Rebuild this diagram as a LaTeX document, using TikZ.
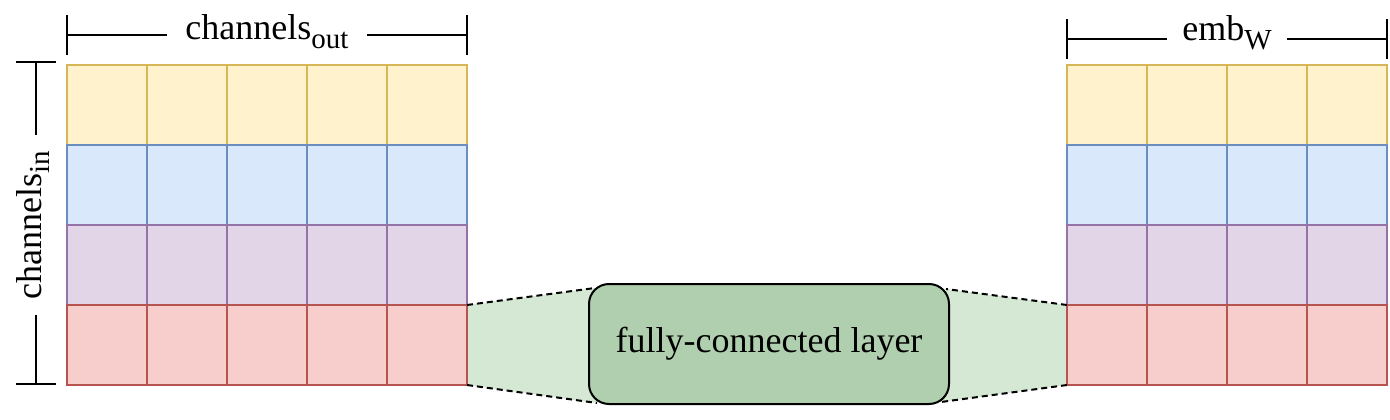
\documentclass[tikz,border=0pt]{standalone}
\usepackage{fontspec}
\setmainfont{Liberation Serif}
\usetikzlibrary{calc}
\pgfdeclarelayer{background}
\pgfsetlayers{background,main}
\definecolor{yfill}{HTML}{FFF2CC}\definecolor{ydraw}{HTML}{D6B656}
\definecolor{bfill}{HTML}{DAE8FC}\definecolor{bdraw}{HTML}{6C8EBF}
\definecolor{pfill}{HTML}{E1D5E7}\definecolor{pdraw}{HTML}{9673A6}
\definecolor{rfill}{HTML}{F8CECC}\definecolor{rdraw}{HTML}{B85450}
\definecolor{gfill}{HTML}{D5E8D4}\definecolor{gbox}{HTML}{B0CFAE}
\newcommand{\sublab}[2]{#1\raisebox{-0.25em}{\fontsize{29}{29}\selectfont #2}}
\begin{document}
\begin{tikzpicture}[x=1pt,y=-1pt,
  cell/.style={draw, line width=1.5pt, minimum size=80pt, inner sep=0pt, outer sep=0pt, anchor=north west},
  row1/.style={cell, fill=yfill, draw=ydraw},
  row2/.style={cell, fill=bfill, draw=bdraw},
  row3/.style={cell, fill=pfill, draw=pdraw},
  row4/.style={cell, fill=rfill, draw=rdraw},
  fcbox/.style={draw, line width=2pt, fill=gbox, rounded corners=20pt, minimum width=360pt, minimum height=120pt, inner sep=0pt, font=\fontsize{36}{40}\selectfont},
  dimline/.style={line width=2pt, black},
  dimlab/.style={font=\fontsize{36}{40}\selectfont, inner sep=0pt},
  fan/.style={black, line width=2pt, dash pattern=on 6pt off 4pt}
]
\useasboundingbox (0,0) rectangle (1390,420);
% left grid
\foreach \r in {1,2,3,4}{
  \foreach \c in {1,...,5}{
    \node[row\r] (l-\r-\c) at ({67+80*(\c-1)},{65+80*(\r-1)}) {};
  }
}
% right grid
\foreach \r in {1,2,3,4}{
  \foreach \c in {1,...,4}{
    \node[row\r] (r-\r-\c) at ({1067+80*(\c-1)},{65+80*(\r-1)}) {};
  }
}
% fully connected layer
\node[fcbox] (fc) at (769,344) {fully-connected layer};
\coordinate (flt) at ($(fc.north west)+(7,5)$);
\coordinate (flb) at ($(fc.south west)+(9,-2)$);
\coordinate (frt) at ($(fc.north east)+(-4,6)$);
\coordinate (frb) at ($(fc.south east)+(-9,-3)$);
\begin{pgfonlayer}{background}
  \fill[gfill] (l-4-5.north east) -- (flt) -- (flb) -- (l-4-5.south east) -- cycle;
  \fill[gfill] (r-4-1.north west) -- (frt) -- (frb) -- (r-4-1.south west) -- cycle;
  \fill[gfill] (flt) rectangle (frb);
\end{pgfonlayer}
\draw[fan] (l-4-5.north east) -- (flt);
\draw[fan] (l-4-5.south east) -- (flb);
\draw[fan] (r-4-1.north west) -- (frt);
\draw[fan] (r-4-1.south west) -- (frb);
% top-left dimension
\coordinate (tla) at (67,15); \coordinate (tlb) at (67,55);
\coordinate (tra) at (467,15); \coordinate (trb) at (467,55);
\coordinate (tl1) at (67,35); \coordinate (tl2) at (167,35);
\coordinate (tl3) at (367,35); \coordinate (tl4) at (467,35);
\draw[dimline] (tla) -- (tlb);
\draw[dimline] (tra) -- (trb);
\draw[dimline] (tl1) -- (tl2);
\draw[dimline] (tl3) -- (tl4);
\node[dimlab, anchor=base] (cout) at (267,40) {\sublab{channels}{out}};
% right dimension
\coordinate (rla) at (1067,19); \coordinate (rlb) at (1067,59);
\coordinate (rra) at (1387,19); \coordinate (rrb) at (1387,59);
\coordinate (rl1) at (1067,39); \coordinate (rl2) at (1167,39);
\coordinate (rl3) at (1287,39); \coordinate (rl4) at (1387,39);
\draw[dimline] (rla) -- (rlb);
\draw[dimline] (rra) -- (rrb);
\draw[dimline] (rl1) -- (rl2);
\draw[dimline] (rl3) -- (rl4);
\node[dimlab, anchor=base] (embw) at (1227,41) {\sublab{emb}{W}};
% left vertical dimension
\coordinate (vta) at (16,62); \coordinate (vtb) at (56,62);
\coordinate (vba) at (16,384); \coordinate (vbb) at (56,384);
\coordinate (v1) at (36,62); \coordinate (v2) at (36,135);
\coordinate (v3) at (36,315); \coordinate (v4) at (36,384);
\draw[dimline] (vta) -- (vtb);
\draw[dimline] (vba) -- (vbb);
\draw[dimline] (v1) -- (v2);
\draw[dimline] (v3) -- (v4);
\node[dimlab, anchor=base, rotate=90] (cin) at (41,225) {\sublab{channels}{in}};
\end{tikzpicture}
\end{document}
